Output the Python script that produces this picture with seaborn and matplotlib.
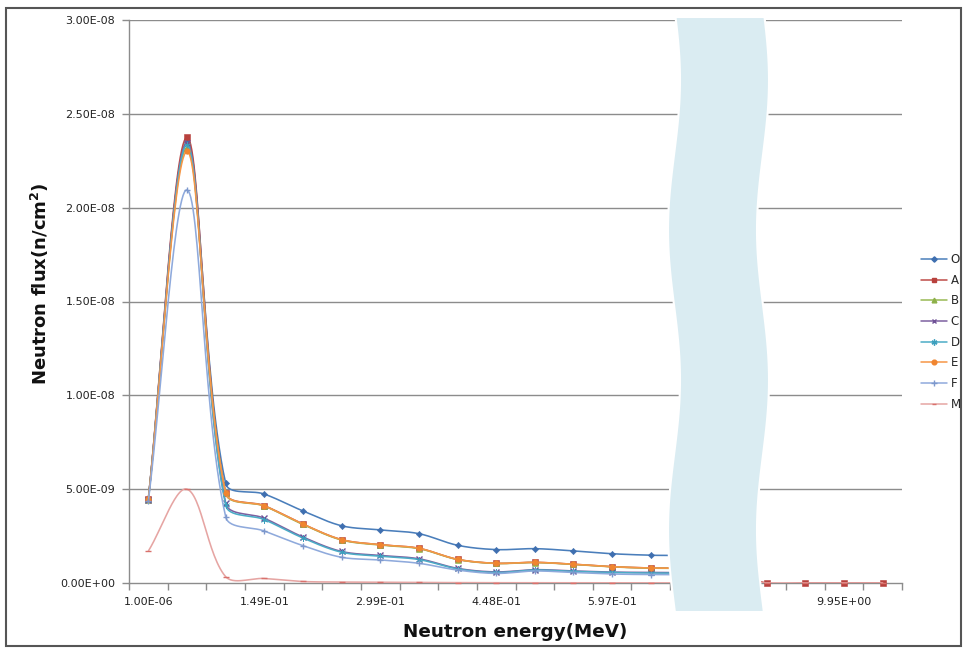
import numpy as np
import pandas as pd
import matplotlib
matplotlib.use("Agg")
import matplotlib.pyplot as plt
import seaborn as sns
from matplotlib.lines import Line2D
from matplotlib.patches import Polygon, Rectangle

# ---------------- data ----------------
series_names = ["O", "A", "B", "C", "D", "E", "F", "M"]
energy_labels = ["1.00E-06", "1.49E-01", "2.99E-01", "4.48E-01", "5.97E-01", "7.46E-01", "9.95E+00"]
label_positions = [0, 3, 6, 9, 12, 15, 18]
categories = list(range(20))
nan = np.nan

O = [4.48e-9, 2.350e-8, 5.31e-9, 4.74e-9, 3.84e-9, 3.05e-9, 2.83e-9, 2.63e-9, 2.01e-9, 1.78e-9,
     1.83e-9, 1.71e-9, 1.56e-9, 1.48e-9, 1.44e-9, 1.20e-9, nan, nan, nan, nan]
A = [4.45e-9, 2.375e-8, 4.81e-9, 4.12e-9, 3.14e-9, 2.31e-9, 2.04e-9, 1.85e-9, 1.26e-9, 1.05e-9,
     1.10e-9, 1.00e-9, 0.87e-9, 0.80e-9, 0.78e-9, 0.60e-9, 1e-12, 1e-12, 1e-12, 1e-12]
B = [4.44e-9, 2.320e-8, 4.78e-9, 4.10e-9, 3.12e-9, 2.29e-9, 2.02e-9, 1.83e-9, 1.25e-9, 1.04e-9,
     1.09e-9, 0.99e-9, 0.86e-9, 0.79e-9, 0.77e-9, 0.60e-9, nan, nan, nan, nan]
C = [4.42e-9, 2.345e-8, 4.25e-9, 3.45e-9, 2.45e-9, 1.68e-9, 1.47e-9, 1.29e-9, 0.78e-9, 0.59e-9,
     0.71e-9, 0.64e-9, 0.58e-9, 0.56e-9, 0.54e-9, 0.40e-9, nan, nan, nan, nan]
D = [4.40e-9, 2.335e-8, 4.15e-9, 3.38e-9, 2.40e-9, 1.64e-9, 1.43e-9, 1.25e-9, 0.75e-9, 0.56e-9,
     0.69e-9, 0.62e-9, 0.56e-9, 0.53e-9, 0.52e-9, 0.40e-9, nan, nan, nan, nan]
E = [4.45e-9, 2.300e-8, 4.80e-9, 4.11e-9, 3.14e-9, 2.31e-9, 2.04e-9, 1.85e-9, 1.26e-9, 1.05e-9,
     1.10e-9, 1.00e-9, 0.87e-9, 0.80e-9, 0.78e-9, 0.60e-9, nan, nan, nan, nan]
F = [4.35e-9, 2.095e-8, 3.53e-9, 2.77e-9, 1.99e-9, 1.37e-9, 1.23e-9, 1.05e-9, 0.69e-9, 0.51e-9,
     0.64e-9, 0.56e-9, 0.48e-9, 0.45e-9, 0.44e-9, 0.35e-9, nan, nan, nan, nan]
M = [1.70e-9, 5.00e-9, 3.4e-10, 2.4e-10, 8e-11, 5e-11, 4e-11, 3e-11, 2e-11, 1.5e-11,
     1.5e-11, 1e-11, 1e-11, 1e-11, 1e-11, 5e-12, 1e-12, 1e-12, 1e-12, 1e-12]

values = {"O": O, "A": A, "B": B, "C": C, "D": D, "E": E, "F": F, "M": M}

# ---------------- styles ----------------
line_colors = {"O": "#4A7EBB", "A": "#BE4B48", "B": "#98B954", "C": "#7D60A0",
               "D": "#4BACC6", "E": "#F79646", "F": "#8FAADC", "M": "#E6A5A3"}
marker_colors = {"O": "#3F6FB0", "A": "#B8413D", "B": "#8DB048", "C": "#6F5196",
                 "D": "#3C9FBD", "E": "#F08530", "F": "#7D98CC", "M": "#D9716C"}
markers = {"O": "D", "A": "s", "B": "^", "C": "x", "D": (6, 2, 0), "E": "o", "F": "+", "M": "_"}
msizes = {"O": 3.2, "A": 4.2, "B": 4.0, "C": 4.2, "D": 5.0, "E": 4.0, "F": 5.0, "M": 4.0}

W, H = 969, 652
ax_l, ax_r, ax_t, ax_b = 129, 902, 20, 583
px_per_cat = (ax_r - ax_l) / 20.0
px_per_val = (ax_b - ax_t) / 3.0e-8


def smooth_curve(xs, ys, n=30, k=1.0 / 3.0):
    xs = np.asarray(xs, float)
    ys = np.asarray(ys, float)
    ok = np.isfinite(ys)
    xs, ys = xs[ok], ys[ok]
    P = np.column_stack([xs * px_per_cat, ys * px_per_val])
    out = []
    for i in range(len(P) - 1):
        p0, p1 = P[i], P[i + 1]
        pm = P[i - 1] if i > 0 else p0
        pp = P[i + 2] if i + 2 < len(P) else p1
        d01 = np.linalg.norm(p1 - p0)
        dm0 = np.linalg.norm(p0 - pm)
        d12 = np.linalg.norm(pp - p1)
        c1 = p0 + (p1 - pm) * k * d01 / (dm0 + d01)
        c2 = p1 - (pp - p0) * k * d01 / (d01 + d12)
        t = np.linspace(0, 1, n)[:, None]
        seg = ((1 - t) ** 3) * p0 + 3 * ((1 - t) ** 2) * t * c1 + 3 * (1 - t) * t ** 2 * c2 + t ** 3 * p1
        out.append(seg if i == 0 else seg[1:])
    Q = np.vstack(out)
    return Q[:, 0] / px_per_cat, Q[:, 1] / px_per_val


sns.set_theme(style="white")
plt.rcParams["font.family"] = ["DejaVu Sans"]

fig = plt.figure(figsize=(W / 100, H / 100), dpi=100)
ax = fig.add_axes([ax_l / W, 1 - ax_b / H, (ax_r - ax_l) / W, (ax_b - ax_t) / H])

for z, name in enumerate(series_names):
    cx, cy = smooth_curve(categories, values[name])
    sns.lineplot(x=cx, y=cy, sort=False, estimator=None, color=line_colors[name],
                 lw=1.15, ax=ax, zorder=3 + z, legend=False)
    y = np.asarray(values[name], float)
    mk = markers[name]
    unfilled = mk in ("x", "+", "_")
    ax.plot(categories, y, linestyle="none", marker=mk, markersize=msizes[name],
            color=marker_colors[name], markeredgewidth=1.0 if unfilled else 0.4,
            markeredgecolor=marker_colors[name], zorder=3 + z, clip_on=False)

ax.set_xlim(-0.5, 19.5)
ax.set_ylim(0, 3.0e-8)
yt = np.arange(0, 3.01e-8, 5e-9)
ax.set_yticks(yt)
ax.set_yticklabels(["%.2E" % v for v in yt])
ax.set_xticks(label_positions)
ax.set_xticklabels(energy_labels)
ax.set_xticks(np.arange(-0.5, 19.6, 1.0), minor=True)
for v in yt[1:]:
    ax.axhline(v, color="#8C8C8C", lw=1.0, zorder=1)

for s in ["top", "right"]:
    ax.spines[s].set_visible(False)
for s in ["left", "bottom"]:
    ax.spines[s].set_color("#8C8C8C")
    ax.spines[s].set_linewidth(1.0)
ax.spines["bottom"].set_zorder(2)

ax.tick_params(axis="y", which="major", length=5, width=1, color="#8C8C8C", pad=5,
               labelsize=8, labelcolor="#222222", left=True)
ax.tick_params(axis="x", which="major", length=0, pad=10, labelsize=8, labelcolor="#222222")
ax.tick_params(axis="x", which="minor", length=5, width=1, color="#8C8C8C", bottom=True)
ax.set_xlabel("")
ax.set_ylabel("")

fig.text(40 / W, 1 - 284 / H, "Neutron flux(n/cm$^\\mathbf{2}$)", rotation=90,
         ha="center", va="center", fontsize=13, fontweight="bold", color="#111111")
fig.text(515 / W, 1 - 632 / H, "Neutron energy(MeV)", ha="center", va="center",
         fontsize=13.2, fontweight="bold", color="#111111")

# legend
handles = [Line2D([], [], color=line_colors[n], lw=1.1, marker=markers[n],
                  markersize=msizes[n] * 0.85, markerfacecolor=marker_colors[n],
                  markeredgecolor=marker_colors[n]) for n in series_names]
fig.legend(handles, series_names, loc="upper left", bbox_to_anchor=(921 / W, 1 - 253 / H),
           frameon=False, fontsize=8.5, handlelength=2.2, handletextpad=0.3,
           labelspacing=0.65, borderaxespad=0, borderpad=0)

# axis-break band
yy = np.linspace(17, 612, 200)
xl = 674 + 6 * np.cos(2 * np.pi * (yy - 80) / 300.0)
xr = xl + 89
poly = np.vstack([np.column_stack([xl, yy]), np.column_stack([xr[::-1], yy[::-1]])])
poly_fig = np.column_stack([poly[:, 0] / W, 1 - poly[:, 1] / H])
fig.add_artist(Polygon(poly_fig, closed=True, transform=fig.transFigure,
                       facecolor="#DAECF2", edgecolor="white", lw=1.5, zorder=10))

# outer frame
fig.add_artist(Rectangle((6 / W, 1 - 646 / H), (961 - 6) / W, (646 - 8) / H,
                         transform=fig.transFigure, fill=False, edgecolor="#555555",
                         lw=1.5, zorder=11))

fig.savefig("out.png", dpi=100)
